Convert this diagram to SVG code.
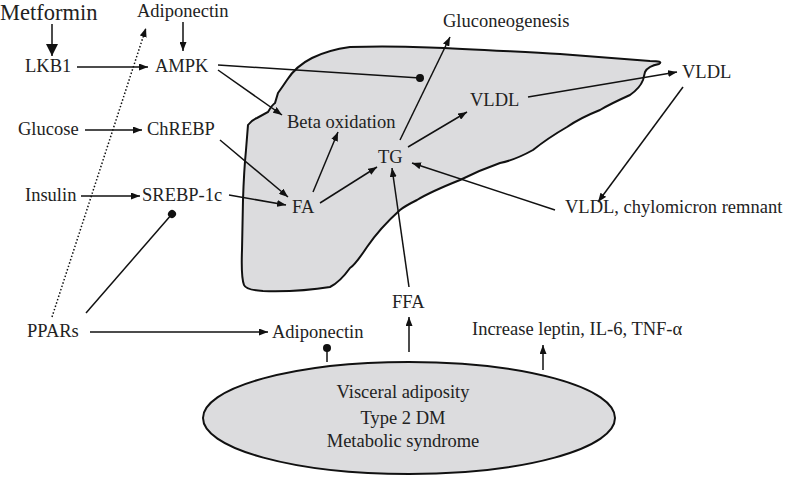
<svg xmlns="http://www.w3.org/2000/svg" width="800" height="478" viewBox="0 0 800 478" font-family="'Liberation Serif', 'Times New Roman', Times, serif">
<style>
text{font-family:'Liberation Serif','Times New Roman',Times,serif;font-size:18.5px;fill:#222}
.c{text-anchor:middle}
.ln{stroke:#111;stroke-width:1.5;fill:none}
.shape{fill:#dcdcde;stroke:#111;stroke-width:2}
</style>
<defs>
<marker id="ar" markerUnits="userSpaceOnUse" markerWidth="9" markerHeight="7" refX="9" refY="3.5" orient="auto"><path d="M0,0 L9,3.5 L0,7 z" fill="#111"/></marker>
<marker id="arb" markerUnits="userSpaceOnUse" markerWidth="12" markerHeight="12" refX="12" refY="6" orient="auto"><path d="M0,0 L12,6 L0,12 z" fill="#111"/></marker>
<marker id="dot" markerUnits="userSpaceOnUse" markerWidth="9" markerHeight="9" refX="4.5" refY="4.5" orient="auto"><circle cx="4.5" cy="4.5" r="4" fill="#111"/></marker>
</defs>
<g id="liver"><path class="shape" d="M350,47 C420,45 480,50 560,54 L650,61 Q664,61 659,64 Q648,66 645,72 L643,80 Q640,88 630,95 Q610,104 600,110 Q580,118 567,127 Q548,138 533,150 Q515,160 500,163 Q480,170 460,180 Q430,192 417,200 Q405,206 400,210 Q380,228 367,247 Q355,265 350,268 Q340,282 330,287 Q300,292 263,291 Q246,290 244,285 Q241,277 242,250 L243,200 Q244,170 246,150 L248,125 Q252,120 257,118 L268,112 Q272,105 275,103 L278,93 Q283,86 287,80 Q296,66 312,58 Q328,50 350,47 Z"/></g>
<g id="adipose"><ellipse class="shape" cx="409" cy="418" rx="206" ry="56"/>
<text class="c" x="403" y="398">Visceral adiposity</text>
<text class="c" x="403" y="424">Type 2 DM</text>
<text class="c" x="403" y="447">Metabolic syndrome</text></g>
<g id="connectors">
<line class="ln" x1="52" y1="24" x2="52" y2="56" stroke-width="3" marker-end="url(#arb)"/>
<line class="ln" x1="183" y1="22" x2="183" y2="51" marker-end="url(#ar)"/>
<line class="ln" x1="77" y1="67" x2="148" y2="67" marker-end="url(#ar)"/>
<line class="ln" x1="52" y1="317" x2="146" y2="28" stroke-dasharray="1.5,2" marker-end="url(#ar)"/>
<line class="ln" x1="218" y1="65" x2="420" y2="78" marker-end="url(#dot)"/>
<line class="ln" x1="218" y1="70" x2="282" y2="115" marker-end="url(#ar)"/>
<line class="ln" x1="85" y1="130" x2="142" y2="130" marker-end="url(#ar)"/>
<line class="ln" x1="81" y1="196" x2="140" y2="196" marker-end="url(#ar)"/>
<line class="ln" x1="220" y1="140" x2="288" y2="197" marker-end="url(#ar)"/>
<line class="ln" x1="229" y1="195" x2="286" y2="205" marker-end="url(#ar)"/>
<line class="ln" x1="86" y1="313" x2="172" y2="214" marker-end="url(#dot)"/>
<line class="ln" x1="90" y1="332" x2="268" y2="332" marker-end="url(#ar)"/>
<line class="ln" x1="313" y1="192" x2="338" y2="132" marker-end="url(#ar)"/>
<line class="ln" x1="320" y1="203" x2="377" y2="167" marker-end="url(#ar)"/>
<line class="ln" x1="409" y1="287" x2="392" y2="168" marker-end="url(#ar)"/>
<line class="ln" x1="400" y1="140" x2="450" y2="37" marker-end="url(#ar)"/>
<line class="ln" x1="408" y1="147" x2="467" y2="112" marker-end="url(#ar)"/>
<line class="ln" x1="528" y1="97" x2="677" y2="72" marker-end="url(#ar)"/>
<line class="ln" x1="683" y1="87" x2="598" y2="202" marker-end="url(#ar)"/>
<line class="ln" x1="555" y1="210" x2="412" y2="163" marker-end="url(#ar)"/>
<line class="ln" x1="327" y1="362" x2="327" y2="348" marker-end="url(#dot)"/>
<line class="ln" x1="409" y1="352" x2="409" y2="317" marker-end="url(#ar)"/>
<line class="ln" x1="543" y1="370" x2="543" y2="345" marker-end="url(#ar)"/>
</g>
<g id="n-metformin"><text x="0" y="20" style="font-size:22.5px">Metformin</text></g>
<g id="n-adiponectin-top"><text x="137" y="17">Adiponectin</text></g>
<g id="n-lkb1"><text x="25" y="72">LKB1</text></g>
<g id="n-ampk"><text x="155" y="72">AMPK</text></g>
<g id="n-glucose"><text x="18" y="135">Glucose</text></g>
<g id="n-chrebp"><text x="147" y="135">ChREBP</text></g>
<g id="n-insulin"><text x="25" y="201">Insulin</text></g>
<g id="n-srebp"><text x="142" y="201">SREBP-1c</text></g>
<g id="n-ppars"><text x="27" y="337">PPARs</text></g>
<g id="n-adiponectin-bottom"><text x="272" y="338">Adiponectin</text></g>
<g id="n-ffa"><text x="392" y="308">FFA</text></g>
<g id="n-increase"><text x="472" y="335">Increase leptin, IL-6, TNF-α</text></g>
<g id="n-fa"><text x="292" y="213">FA</text></g>
<g id="n-tg"><text x="378" y="163">TG</text></g>
<g id="n-beta"><text x="287" y="128">Beta oxidation</text></g>
<g id="n-vldl-in"><text x="470" y="106">VLDL</text></g>
<g id="n-gluco"><text x="443" y="27">Gluconeogenesis</text></g>
<g id="n-vldl-out"><text x="682" y="78">VLDL</text></g>
<g id="n-remnant"><text x="565" y="213">VLDL, chylomicron remnant</text></g>
</svg>
